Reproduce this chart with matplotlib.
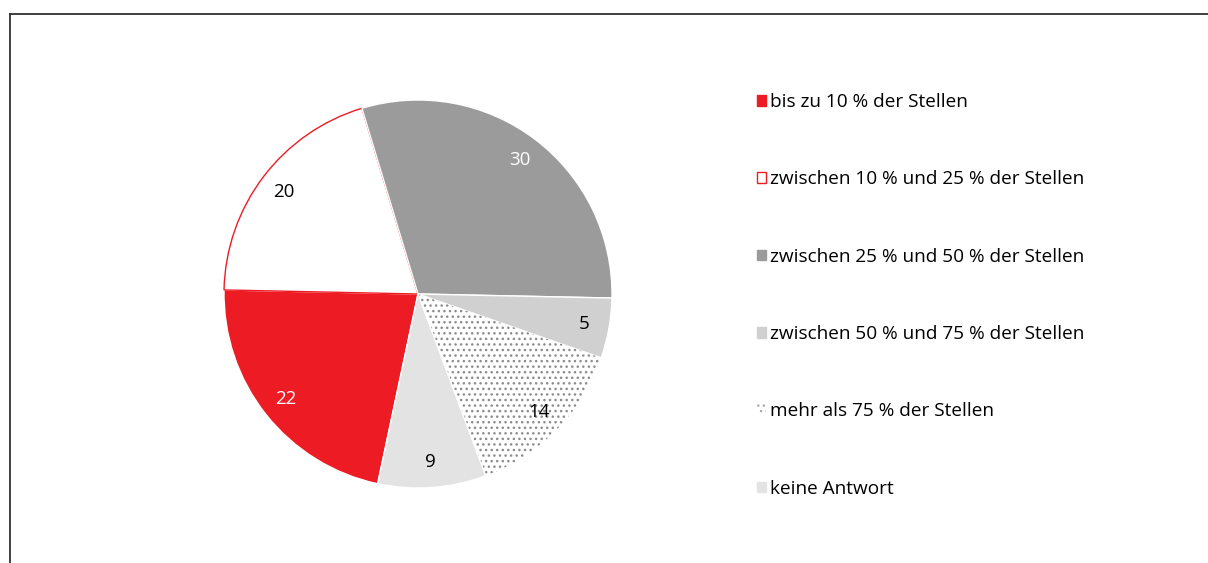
import matplotlib.pyplot as plt
import numpy as np
from matplotlib.patches import Patch

plt.rcParams['font.family'] = ['Open Sans', 'DejaVu Sans']
plt.rcParams['hatch.linewidth'] = 1.0

labels = ['bis zu 10 % der Stellen',
          'zwischen 10 % und 25 % der Stellen',
          'zwischen 25 % und 50 % der Stellen',
          'zwischen 50 % und 75 % der Stellen',
          'mehr als 75 % der Stellen',
          'keine Antwort']
values = [22, 20, 30, 5, 14, 9]
colors = ['#ED1C24', '#FFFFFF', '#9B9B9B', '#D0D0D0', '#FFFFFF', '#E3E3E3']
text_colors = ['white', 'black', 'white', 'black', 'black', 'black']

W, H = 1208, 563
fig = plt.figure(figsize=(W / 100, H / 100), dpi=100)

# frame (top + left line)
bg = fig.add_axes([10 / W, 0, 1 - 10 / W, (H - 14) / H])
bg.set_xticks([])
bg.set_yticks([])
for s in ['right', 'bottom']:
    bg.spines[s].set_visible(False)
for s in ['top', 'left']:
    bg.spines[s].set_color('#333333')
    bg.spines[s].set_linewidth(1.3)
bg.patch.set_alpha(0)

cx, cy, r = 418, 294, 194
ax = fig.add_axes([(cx - r) / W, (H - cy - r) / H, 2 * r / W, 2 * r / H])
wedges, _ = ax.pie(values, colors=colors, startangle=-102.0, counterclock=False,
                   radius=1, wedgeprops=dict(edgecolor='white', linewidth=1))
wedges[1].set_edgecolor('#ED1C24')
wedges[1].set_linewidth(1.0)
wedges[4].set_edgecolor('#8c8c8c')
wedges[4].set_hatch('...')
wedges[4].set_linewidth(0)
ax.set_xlim(-1.0, 1.0)
ax.set_ylim(-1.0, 1.0)

for w, v, tc in zip(wedges, values, text_colors):
    ang = np.deg2rad((w.theta1 + w.theta2) / 2)
    ax.text(0.87 * np.cos(ang), 0.87 * np.sin(ang), str(v), ha='center', va='center',
            fontsize=13.5, color=tc)

handles = [Patch(facecolor='#ED1C24', edgecolor='#ED1C24'),
           Patch(facecolor='white', edgecolor='#ED1C24', linewidth=1),
           Patch(facecolor='#9B9B9B', edgecolor='#9B9B9B'),
           Patch(facecolor='#D0D0D0', edgecolor='#D0D0D0'),
           Patch(facecolor='white', edgecolor='#aaaaaa', hatch='...', linewidth=0),
           Patch(facecolor='#E3E3E3', edgecolor='#E3E3E3')]
fig.legend(handles, labels, loc='upper left', bbox_to_anchor=(757 / W, 1 - 93 / H),
           frameon=False, fontsize=13.7, handlelength=0.48, handleheight=0.48,
           handletextpad=0.22, labelspacing=3.12, borderaxespad=0, borderpad=0)

fig.savefig('out.png', dpi=100)
